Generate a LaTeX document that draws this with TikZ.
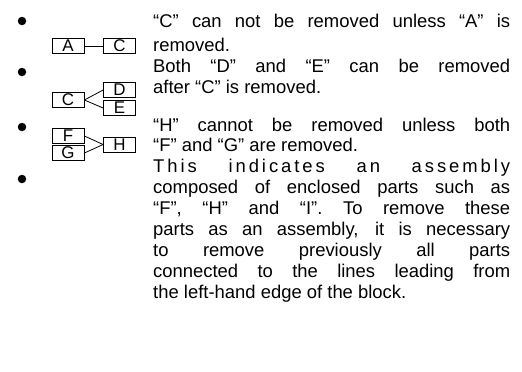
\documentclass[tikz,border=0pt]{standalone}
\usepackage{fontspec}
\setmainfont{Liberation Sans}
\begin{document}
\begin{tikzpicture}[x=1bp,y=-1bp,
  txt/.style={anchor=base west, inner sep=0pt, font=\fontsize{18.5}{21}\selectfont},
  part/.style={draw, line width=0.8bp, minimum width=32bp, minimum height=15bp, inner sep=0pt, font=\fontsize{17}{17}\selectfont},
  conn/.style={line width=0.8bp},
  bul/.style={circle, fill=black, inner sep=0pt, minimum size=8.5bp}]
\useasboundingbox (0,0) rectangle (522,371);
\newcommand{\jline}[1]{\makebox[357bp][s]{#1}}
% bullets
\node[bul] (b1) at (22,21) {};
\node[bul] (b2) at (22,72) {};
\node[bul] (b3) at (22,127) {};
\node[bul] (b4) at (22,179) {};
% diagrams
\node[part] (A) at (68,46) {A};
\node[part] (C) at (119.5,46) {C};
\draw[conn] (A.east) -- (C.west);
\node[part] (C2) at (68,100) {C};
\node[part] (D) at (119.5,90) {D};
\node[part] (E) at (119.5,108) {E};
\draw[conn] (C2.east) -- (D.west);
\draw[conn] (C2.east) -- (E.west);
\node[part] (F) at (68,136) {F};
\node[part] (G) at (68,153) {G};
\node[part] (H) at (119.5,144.5) {H};
\draw[conn] (F.east) -- (H.west);
\draw[conn] (G.east) -- (H.west);
% text
\node[txt] (t1) at (153,27) {\jline{“C” can not be removed unless “A” is}};
\node[txt] (t2) at (153,51) {removed.};
\node[txt] (t3) at (153,72) {\jline{Both “D” and “E” can be removed}};
\node[txt] (t4) at (153,93) {after “C” is removed.};
\node[txt] (t5) at (153,131) {\jline{“H” cannot be removed unless both}};
\node[txt] (t6) at (153,151) {“F” and “G” are removed.};
\node[txt] (t7) at (153,172) {\addfontfeature{LetterSpace=16}\jline{This indicates an assembly}};
\node[txt] (t8) at (153,193) {\jline{composed of enclosed parts such as}};
\node[txt] (t9) at (153,214) {\jline{“F”, “H” and “I”. To remove these}};
\node[txt] (t10) at (153,235) {\jline{parts as an assembly, it is necessary}};
\node[txt] (t11) at (153,256) {\jline{to remove previously all parts}};
\node[txt] (t12) at (153,277) {\jline{connected to the lines leading from}};
\node[txt] (t13) at (153,298) {the left-hand edge of the block.};
\end{tikzpicture}
\end{document}
